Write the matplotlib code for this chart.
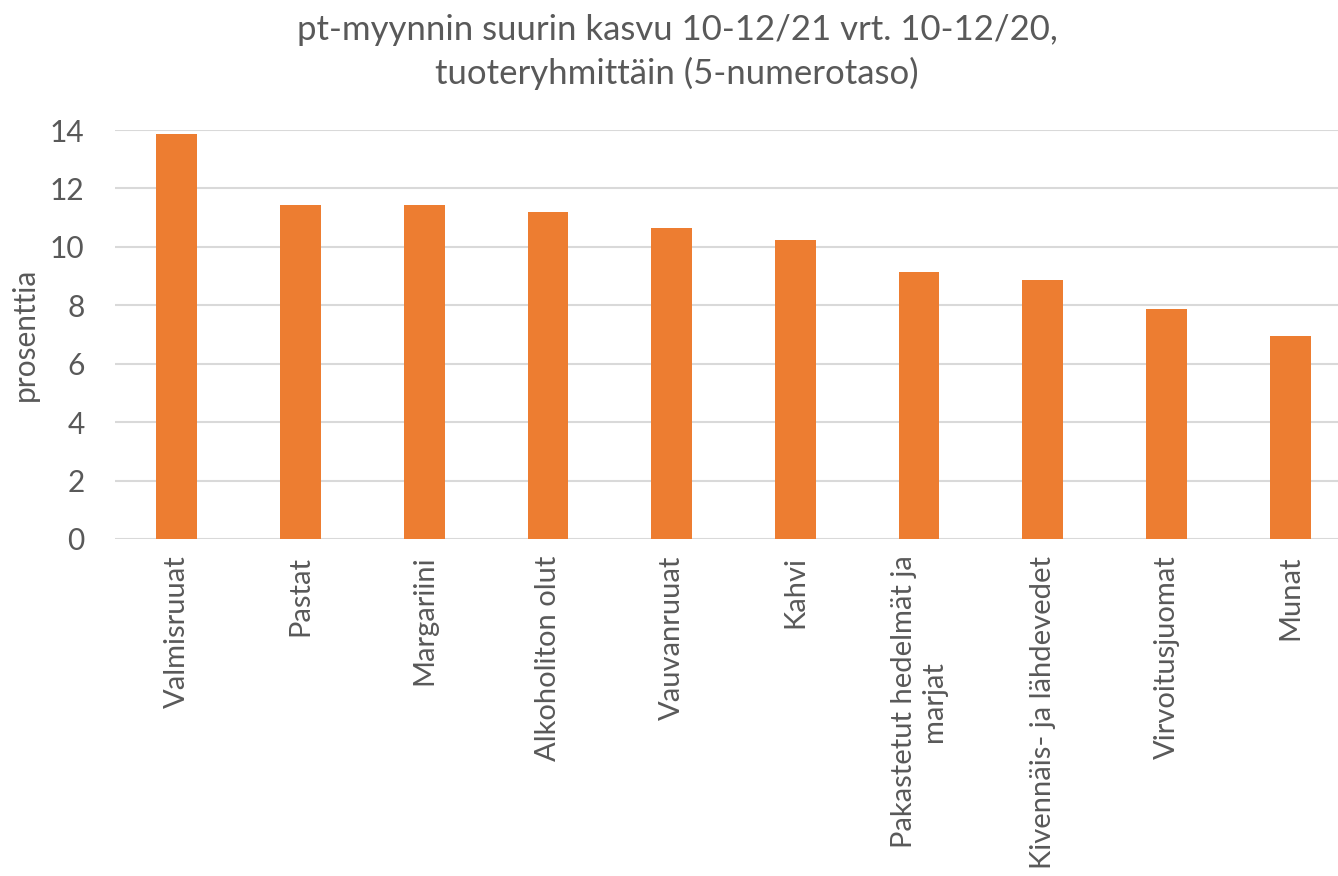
import matplotlib.pyplot as plt

plt.rcParams['font.family'] = ['Lato', 'DejaVu Sans']

categories = ['Valmisruuat', 'Pastat', 'Margariini', 'Alkoholiton olut',
              'Vauvanruuat', 'Kahvi', 'Pakastetut hedelmät ja\nmarjat',
              'Kivennäis- ja lähdevedet', 'Virvoitusjuomat', 'Munat']
values = [13.85, 11.44, 11.43, 11.21, 10.66, 10.22, 9.15, 8.88, 7.86, 6.96]
yticks = [0, 2, 4, 6, 8, 10, 12, 14]

W, H = 1338, 876
fig = plt.figure(figsize=(W / 100, H / 100), dpi=100)
ax = fig.add_axes([115 / W, (H - 539) / H, 1237 / W, 409 / H])

grey = '#595959'
ax.bar(range(len(values)), values, width=0.33, color='#ED7D31', zorder=3)
ax.set_xlim(-0.5, len(values) - 0.5)
ax.set_ylim(0, 14)
ax.set_yticks(yticks)
ax.yaxis.grid(True, color='#d9d9d9', linewidth=1.5, zorder=0)
for s in ax.spines.values():
    s.set_visible(False)
ax.tick_params(axis='y', length=0, colors=grey, labelsize=21.5, pad=22)
ax.tick_params(axis='x', length=0, colors=grey, labelsize=21, pad=12)
ax.set_xticks(range(len(values)))
ax.set_xticklabels(categories, rotation=90, va='top', ha='center',
                   multialignment='center')
ax.set_ylabel('prosenttia', fontsize=21.5, color=grey, labelpad=8)

fig.suptitle('pt-myynnin suurin kasvu 10-12/21 vrt. 10-12/20,\n'
             'tuoteryhmittäin (5-numerotaso)',
             x=677 / W, y=1 - 14 / H, va='top', fontsize=25, color=grey,
             linespacing=1.4)

fig.savefig('out.png', dpi=100)
